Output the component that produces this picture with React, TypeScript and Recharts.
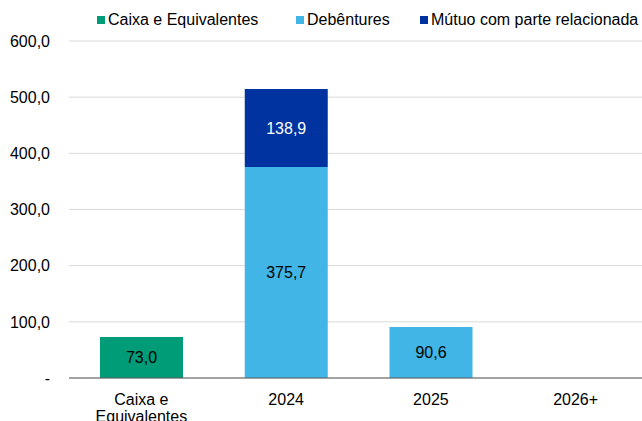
import React from 'react';
import { BarChart, Bar, XAxis, YAxis, CartesianGrid, LabelList } from 'recharts';

const categories = ['Caixa e Equivalentes', '2024', '2025', '2026+'];
const caixa = [73.0, null, null, null];
const debentures = [null, 375.7, 90.6, null];
const mutuo = [null, 138.9, null, null];
const yTicks = [0, 100, 200, 300, 400, 500, 600];

const seriesNames = ['Caixa e Equivalentes', 'Debêntures', 'Mútuo com parte relacionada'];
const colors = ['#009B77', '#41B6E6', '#0033A0'];

const data = categories.map((c, i) => ({
  cat: c,
  caixa: caixa[i],
  debentures: debentures[i],
  mutuo: mutuo[i],
}));

const fmt = (v: any) => (v == null ? '' : Number(v).toFixed(1).replace('.', ','));
const yFmt = (v: number) => (v === 0 ? '-' : v.toFixed(1).replace('.', ','));

const FONT = '"Liberation Sans", Arial, sans-serif';
const FS = 16;

const XTick = (props: any) => {
  const { x, y, payload } = props;
  const label: string = payload.value;
  const lines = label === 'Caixa e Equivalentes' ? ['Caixa e', 'Equivalentes'] : [label];
  return (
    <g transform={`translate(${x},${y})`}>
      {lines.map((l, i) => (
        <text key={i} x={0} y={i * 17} dy={19} textAnchor="middle" fill="#000" fontSize={FS} fontFamily={FONT}>
          {l}
        </text>
      ))}
    </g>
  );
};

const legendItems = [
  { name: seriesNames[0], color: colors[0], left: 97 },
  { name: seriesNames[1], color: colors[1], left: 296 },
  { name: seriesNames[2], color: colors[2], left: 420 },
];

export default function App() {
  return (
    <div style={{ position: 'absolute', left: 0, top: 0, width: 642, height: 421, overflow: 'hidden', background: '#fff' }}>
      <BarChart
        width={648}
        height={421}
        data={data}
        margin={{ top: 41, right: 0, bottom: 0, left: 9 }}
        barSize={83}
      >
        <CartesianGrid vertical={false} stroke="#d9d9d9" />
        <XAxis
          dataKey="cat"
          height={43}
          tickLine={false}
          axisLine={{ stroke: '#595959' }}
          tick={<XTick />}
          interval={0}
        />
        <YAxis
          width={60}
          domain={[0, 600]}
          ticks={yTicks}
          tickFormatter={yFmt}
          axisLine={false}
          tickLine={false}
          tickSize={0}
          tickMargin={19}
          tick={{ fill: '#000', fontSize: FS, fontFamily: FONT }}
        />
        <Bar dataKey="caixa" stackId="a" fill={colors[0]} isAnimationActive={false}>
          <LabelList dataKey="caixa" position="center" formatter={fmt} fill="#000" fontSize={FS} fontFamily={FONT} />
        </Bar>
        <Bar dataKey="debentures" stackId="a" fill={colors[1]} isAnimationActive={false}>
          <LabelList dataKey="debentures" position="center" formatter={fmt} fill="#000" fontSize={FS} fontFamily={FONT} />
        </Bar>
        <Bar dataKey="mutuo" stackId="a" fill={colors[2]} isAnimationActive={false}>
          <LabelList dataKey="mutuo" position="center" formatter={fmt} fill="#fff" fontSize={FS} fontFamily={FONT} />
        </Bar>
      </BarChart>
      {legendItems.map((it) => (
        <div
          key={it.name}
          style={{
            position: 'absolute',
            left: it.left,
            top: 10,
            height: 20,
            display: 'flex',
            alignItems: 'center',
            fontFamily: FONT,
            fontSize: FS,
            color: '#000',
            whiteSpace: 'nowrap',
          }}
        >
          <span style={{ display: 'inline-block', width: 8, height: 8, background: it.color, marginRight: 3 }} />
          {it.name}
        </div>
      ))}
    </div>
  );
}
